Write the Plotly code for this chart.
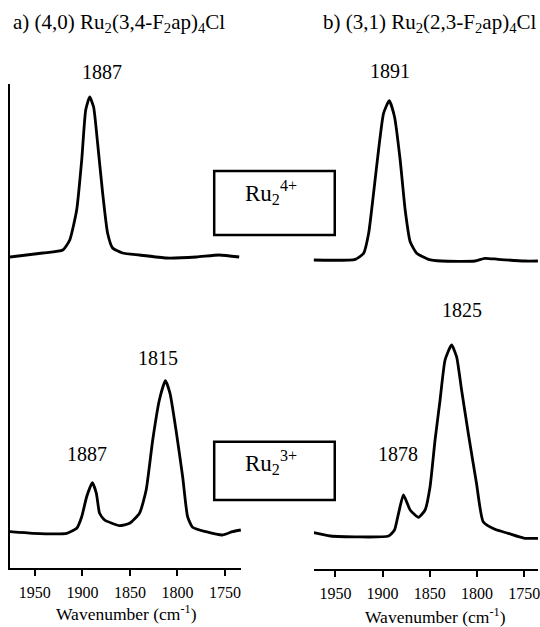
import plotly.graph_objects as go

# ---- data (wavenumber in cm^-1, intensity in arbitrary stacked units) ----
# panel a) (4,0) Ru2(3,4-F2ap)4Cl, Ru2(4+) spectrum (upper trace)
wn_a4 = [1976.2, 1941.6, 1920.6, 1913.3, 1906.0, 1900.7, 1896.5, 1892.3, 1888.2,
         1884.0, 1878.7, 1873.5, 1868.2, 1857.8, 1840.0, 1811.6, 1780.0, 1756.0, 1735.0]
int_a4 = [3.11, 3.15, 3.18, 3.28, 3.58, 4.08, 4.58, 4.71, 4.61,
          4.25, 3.75, 3.35, 3.20, 3.15, 3.13, 3.10, 3.11, 3.13, 3.11]

# panel a) Ru2(3+) spectrum (lower trace)
wn_a3 = [1976.2, 1952.1, 1916.5, 1906.0, 1900.7, 1895.5, 1889.5, 1885.3, 1881.9,
         1876.6, 1860.9, 1850.4, 1839.9, 1832.9, 1826.0, 1819.0, 1812.7, 1807.8,
         1801.5, 1794.5, 1789.3, 1784.1, 1770.0, 1752.6, 1742.1, 1733.3]
int_a3 = [0.363, 0.347, 0.347, 0.397, 0.513, 0.713, 0.853, 0.747, 0.547,
          0.480, 0.423, 0.447, 0.547, 0.780, 1.280, 1.680, 1.873, 1.747,
          1.380, 0.913, 0.513, 0.407, 0.363, 0.330, 0.363, 0.380]

# panel b) (3,1) Ru2(2,3-F2ap)4Cl, Ru2(4+) spectrum (upper trace)
wn_b4 = [1974.7, 1928.9, 1920.1, 1914.8, 1909.6, 1904.3, 1899.0, 1893.0, 1887.4,
         1881.4, 1876.1, 1870.8, 1863.8, 1851.5, 1837.4, 1802.2, 1791.6, 1777.6,
         1749.4, 1735.4]
int_b4 = [3.090, 3.097, 3.157, 3.357, 3.757, 4.190, 4.557, 4.683, 4.523,
          4.090, 3.590, 3.273, 3.157, 3.097, 3.080, 3.080, 3.107, 3.097,
          3.080, 3.080]

# panel b) Ru2(3+) spectrum (lower trace)
wn_b3 = [1972.9, 1955.3, 1893.7, 1887.4, 1883.1, 1877.9, 1870.8, 1862.0, 1855.0,
         1849.7, 1844.4, 1839.1, 1833.8, 1826.9, 1821.6, 1816.3, 1809.2, 1800.5,
         1793.4, 1781.0, 1767.0, 1749.4, 1735.3]
int_b3 = [0.363, 0.330, 0.330, 0.390, 0.557, 0.740, 0.590, 0.517, 0.590,
          0.823, 1.290, 1.690, 2.090, 2.240, 2.123, 1.790, 1.357, 0.857,
          0.473, 0.397, 0.357, 0.307, 0.307]

tick_vals = [1950, 1900, 1850, 1800, 1750]
tick_text = ["1950", "1900", "1850", "1800", "1750"]

titles = ["a) (4,0) Ru<sub>2</sub>(3,4-F<sub>2</sub>ap)<sub>4</sub>Cl",
          "b) (3,1) Ru<sub>2</sub>(2,3-F<sub>2</sub>ap)<sub>4</sub>Cl"]
peak_labels_a = ["1887", "1815", "1887"]
peak_labels_b = ["1891", "1825", "1878"]
state_labels = ["Ru<sub>2</sub><sup>4+</sup>", "Ru<sub>2</sub><sup>3+</sup>"]
axis_title = "Wavenumber (cm<sup>-1</sup>)"

W, H = 540, 627
FONT = '"Liberation Serif", "Times New Roman", serif'


def px(x):
    return x / W


def py(y):
    return 1 - y / H


fig = go.Figure()
line_style = dict(color="black", width=2.8, shape="spline", smoothing=0.5)
for wn, inten, xa, ya in [(wn_a4, int_a4, "x", "y"), (wn_a3, int_a3, "x", "y"),
                          (wn_b4, int_b4, "x2", "y2"), (wn_b3, int_b3, "x2", "y2")]:
    fig.add_trace(go.Scatter(x=wn, y=inten, xaxis=xa, yaxis=ya, mode="lines",
                             line=line_style, showlegend=False, hoverinfo="skip"))

xcommon = dict(showline=True, linecolor="black", linewidth=2, ticks="outside",
               ticklen=6, tickwidth=2, tickcolor="black", tickvals=tick_vals,
               ticktext=tick_text, showgrid=False, zeroline=False,
               tickfont=dict(family=FONT, size=16, color="black"),
               ticklabelstandoff=3, ticklabeloverflow="allow")
ycommon = dict(showticklabels=False, ticks="", showgrid=False, zeroline=False)

fig.update_layout(
    width=W, height=H, autosize=False,
    margin=dict(l=0, r=0, t=0, b=0),
    paper_bgcolor="white", plot_bgcolor="white",
    font=dict(family=FONT, color="black"),
    xaxis=dict(domain=[px(10), px(242)], range=[1976.2, 1733.0], anchor="y", **xcommon),
    yaxis=dict(domain=[py(568), py(84)], range=[0, 4.84], anchor="x",
               showline=True, linecolor="black", linewidth=2, **ycommon),
    xaxis2=dict(domain=[px(315), 1.0], range=[1972.9, 1735.3], anchor="y2", **xcommon),
    yaxis2=dict(domain=[py(569), py(84)], range=[0, 4.85], anchor="x2",
                showline=False, **ycommon),
)

ann = []
# panel titles
ann.append(dict(text=titles[0], x=px(119), y=py(23)))
ann.append(dict(text=titles[1], x=px(432), y=py(23)))
# peak labels
ann.append(dict(text=peak_labels_a[0], x=px(102.5), y=py(71.5)))
ann.append(dict(text=peak_labels_a[1], x=px(159), y=py(358)))
ann.append(dict(text=peak_labels_a[2], x=px(87.5), y=py(454)))
ann.append(dict(text=peak_labels_b[0], x=px(391), y=py(71)))
ann.append(dict(text=peak_labels_b[1], x=px(463.3), y=py(310)))
ann.append(dict(text=peak_labels_b[2], x=px(399.7), y=py(454)))
for a in ann:
    a.update(xref="paper", yref="paper", showarrow=False, xanchor="center",
             yanchor="middle", font=dict(family=FONT, size=20, color="black"))
ann[0]["font"] = dict(family=FONT, size=21, color="black")
ann[1]["font"] = dict(family=FONT, size=21, color="black")
# state labels in boxes
ann.append(dict(text=state_labels[0], x=px(272), y=py(192), xref="paper", yref="paper",
                showarrow=False, xanchor="center", yanchor="middle",
                font=dict(family=FONT, size=23, color="black")))
ann.append(dict(text=state_labels[1], x=px(272), y=py(462.5), xref="paper", yref="paper",
                showarrow=False, xanchor="center", yanchor="middle",
                font=dict(family=FONT, size=23, color="black")))
# axis titles
ann.append(dict(text=axis_title, x=px(126.7), y=py(613), xref="paper", yref="paper",
                showarrow=False, xanchor="center", yanchor="middle",
                font=dict(family=FONT, size=17.5, color="black")))
ann.append(dict(text=axis_title, x=px(437), y=py(616), xref="paper", yref="paper",
                showarrow=False, xanchor="center", yanchor="middle",
                font=dict(family=FONT, size=17.5, color="black")))
fig.update_layout(annotations=ann)

shapes = []
for (y0, y1) in [(171, 235), (441.7, 500)]:
    shapes.append(dict(type="rect", xref="paper", yref="paper",
                       x0=px(215), x1=px(336), y0=py(y1), y1=py(y0),
                       line=dict(color="black", width=2.5), fillcolor="rgba(0,0,0,0)"))
fig.update_layout(shapes=shapes)

fig.write_html("out.html")
